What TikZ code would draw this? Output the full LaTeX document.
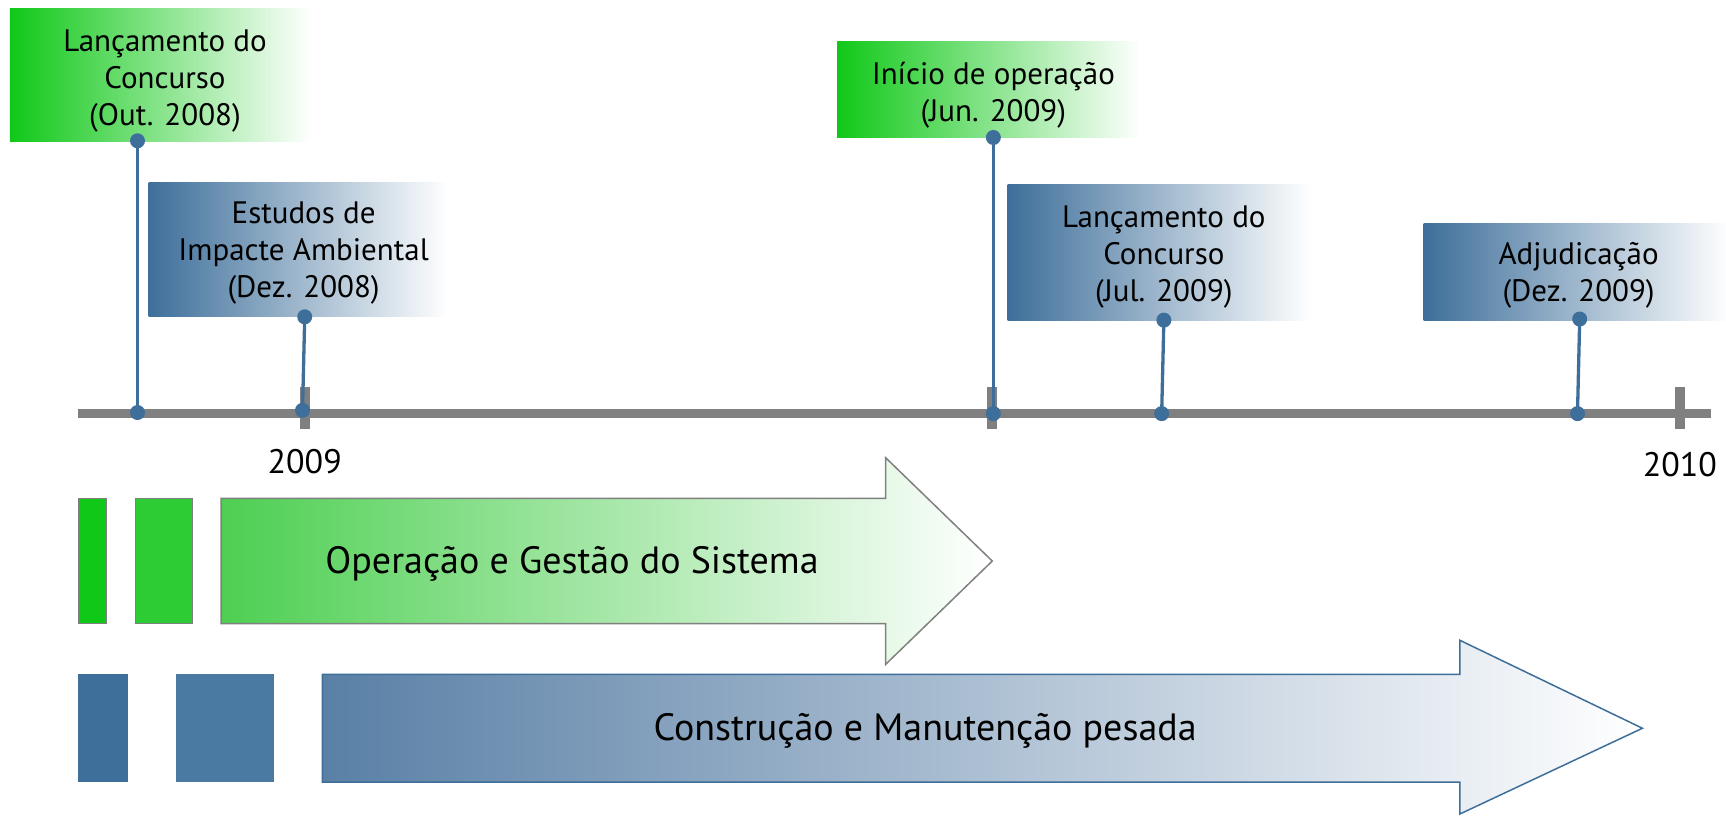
\documentclass[tikz,border=0pt]{standalone}
\usepackage{fontspec}
\setmainfont{PT Sans}
\usetikzlibrary{fit}
\pgfdeclarelayer{bg}
\pgfsetlayers{bg,main}
\definecolor{tgreen}{RGB}{16,200,24}
\definecolor{tgreenb}{RGB}{46,204,52}
\definecolor{tgreenc}{RGB}{78,207,82}
\definecolor{tblue}{RGB}{62,111,154}
\definecolor{tblueb}{RGB}{74,121,161}
\definecolor{tbluec}{RGB}{90,128,166}
\definecolor{tgray}{RGB}{128,128,128}
\begin{document}
\begin{tikzpicture}[x=1.1pt,y=-1.1pt,
  lbl/.style={inner sep=0pt,align=center,font=\fontsize{31}{37}\selectfont},
  gbox/.style={inner sep=0pt,left color=tgreen,right color=white},
  bbox/.style={inner sep=0pt,left color=tblue,right color=white},
  dot/.style={circle,fill=tblue,inner sep=0pt,minimum size=15pt},
  conn/.style={tblue,line width=3.3pt},
  axis/.style={tgray,line width=8.5pt},
  tickmark/.style={tgray,line width=10pt},
  year/.style={inner sep=0pt,font=\fontsize{34}{40}\selectfont},
  bigtext/.style={inner sep=0pt,font=\fontsize{38}{44}\selectfont},
  gbar/.style={draw=tgray,line width=1.2pt},
]
\useasboundingbox (0,0) rectangle (1569,741);

% label boxes
\node[gbox,fit={(9,8) (283,129)}] (b1) {};
\node[bbox,fit={(135,166) (407,288)}] (b2) {};
\node[gbox,fit={(761,38) (1037,125)}] (b3) {};
\node[bbox,fit={(916,168) (1192,291)}] (b4) {};
\node[bbox,fit={(1294,203) (1572,291)}] (b5) {};
\node[lbl] (l1) at (150,73.5) {Lançamento do\\Concurso\\(Out. 2008)};
\node[lbl] (l2) at (276,230) {Estudos de\\Impacte Ambiental\\(Dez. 2008)};
\node[lbl] (l3) at (903,87) {Início de operação\\(Jun. 2009)};
\node[lbl] (l4) at (1058,234) {Lançamento do\\Concurso\\(Jul. 2009)};
\node[lbl] (l5) at (1435,250.5) {Adjudicação\\(Dez. 2009)};

% milestone dots
\node[dot] (p1) at (125,128) {};
\node[dot] (q1) at (125,375) {};
\node[dot] (p2) at (277,288) {};
\node[dot] (q2) at (275,373) {};
\node[dot] (p3) at (903,125) {};
\node[dot] (q3) at (903,376) {};
\node[dot] (p4) at (1058,291) {};
\node[dot] (q4) at (1056,376) {};
\node[dot] (p5) at (1436,290) {};
\node[dot] (q5) at (1434,376) {};

% timeline and connectors (behind dots)
\coordinate (t0) at (71,376);
\coordinate (t1) at (1555,376);
\coordinate (k1a) at (277,352); \coordinate (k1b) at (277,390);
\coordinate (k2a) at (902,352); \coordinate (k2b) at (902,390);
\coordinate (k3a) at (1527,352); \coordinate (k3b) at (1527,390);
\begin{pgfonlayer}{bg}
\draw[axis] (t0) -- (t1);
\draw[tickmark] (k1a) -- (k1b);
\draw[tickmark] (k2a) -- (k2b);
\draw[tickmark] (k3a) -- (k3b);
\draw[conn] (p1.center) -- (q1.center);
\draw[conn] (p2.center) -- (q2.center);
\draw[conn] (p3.center) -- (q3.center);
\draw[conn] (p4.center) -- (q4.center);
\draw[conn] (p5.center) -- (q5.center);
\end{pgfonlayer}
\node[year] (y1) at (277,420) {2009};
\node[year] (y2) at (1527,422) {2010};

% green row
\draw[gbar,fill=tgreen] (71,453) rectangle (97,567);
\draw[gbar,fill=tgreenb] (123,453) rectangle (175,567);
\shade[left color=tgreenc,right color=white] (201,453) -- (805,453) -- (805,416) -- (902,510) -- (805,604) -- (805,567) -- (201,567) -- cycle;
\draw[tgray,line width=1.5pt,line join=miter] (201,453) -- (805,453) -- (805,416) -- (902,510) -- (805,604) -- (805,567) -- (201,567) -- cycle;
\node[bigtext] (a1) at (520,513) {Operação e Gestão do Sistema};

% blue row
\fill[tblue] (71,613) rectangle (116,711);
\fill[tblueb] (160,613) rectangle (249,711);
\shade[left color=tbluec,right color=white] (293,613) -- (1327,613) -- (1327,582) -- (1493,662) -- (1327,740) -- (1327,711) -- (293,711) -- cycle;
\draw[tblue,line width=1.5pt,line join=miter] (293,613) -- (1327,613) -- (1327,582) -- (1493,662) -- (1327,740) -- (1327,711) -- (293,711) -- cycle;
\node[bigtext] (a2) at (841,664) {Construção e Manutenção pesada};
\end{tikzpicture}
\end{document}
